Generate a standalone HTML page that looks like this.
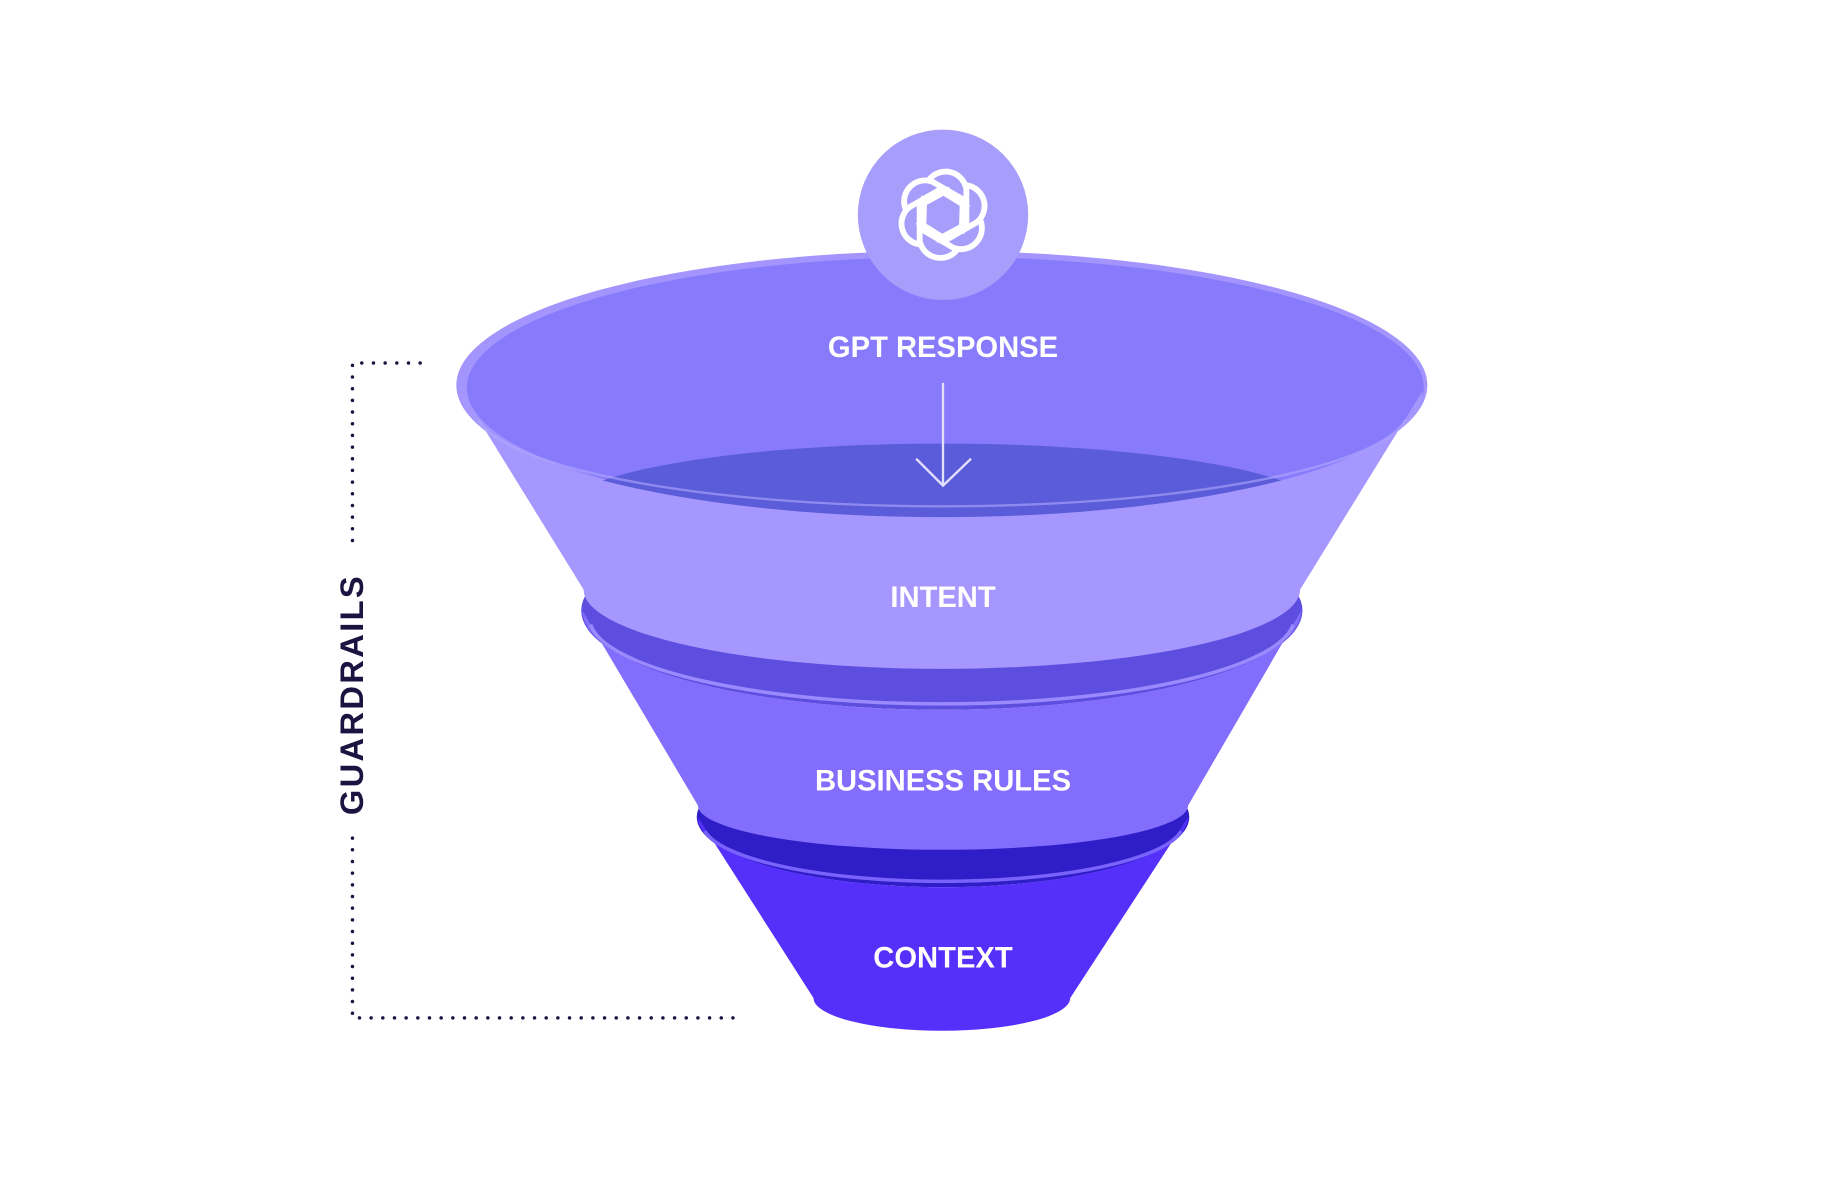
<!DOCTYPE html>
<html><head><meta charset="utf-8"><style>
html,body{margin:0;padding:0;background:#fff;width:1830px;height:1200px;overflow:hidden}
svg{display:block}
</style></head><body>
<svg width="1830" height="1200" viewBox="0 0 1568 1028" preserveAspectRatio="none" xmlns="http://www.w3.org/2000/svg">
<!-- cone 3 -->
<ellipse cx="808" cy="700" rx="211" ry="60" fill="#2f1dc7"/>
<path d="M598,700 A210,60 0 0 0 1018,700 L917,855 A110,28 0 0 1 697,855 Z" fill="#5530fb"/>
<path d="M604,712 A206,50 0 0 0 1012,712" fill="none" stroke="#7a62fc" stroke-width="3"/>
<!-- cone 2 -->
<ellipse cx="807" cy="523" rx="309" ry="85" fill="#5e4ee0"/>
<path d="M499,523 A308,85 0 0 0 1115,523 L1018,690 A210,38 0 0 1 598,690 Z" fill="#826dfc"/>
<path d="M506,535 A302,74 0 0 0 1108,535" fill="none" stroke="#9a8afd" stroke-width="3"/>
<!-- top -->
<ellipse cx="807" cy="330" rx="416" ry="115" fill="#a395fd"/>
<ellipse cx="810" cy="332" rx="410" ry="112" fill="#877bfc"/>
<ellipse cx="807" cy="440" rx="330" ry="60" fill="#5b5cd9"/>
<path d="M395,335 A412,108 0 0 0 1219,335 L1114,505 A307,68 0 0 1 500,505 Z" fill="#a597fd"/>
<path d="M410,360 A400,84 0 0 0 1204,360" fill="none" stroke="#b3a8fd" stroke-width="2" opacity="0.6"/>
<!-- circle -->
<circle cx="808" cy="184" r="73" fill="#a79dfb"/>
<g fill="none" stroke="#fff" stroke-width="5" transform="translate(808,184)">
<g id="p"><path d="M-12,-30 A18,18 0 0 1 20,-22 L20,8 L-6,22"/></g>
<use href="#p" transform="rotate(60)"/><use href="#p" transform="rotate(120)"/>
<use href="#p" transform="rotate(180)"/><use href="#p" transform="rotate(240)"/><use href="#p" transform="rotate(300)"/>
</g>
<!-- arrow -->
<g stroke="#e3dfff" stroke-width="2" fill="none">
<line x1="808" y1="328" x2="808" y2="416"/>
<polyline points="785,393 808,416 832,393"/>
</g>
<g font-family="Liberation Sans, sans-serif" font-weight="bold" fill="#fff" text-anchor="middle" font-size="25">
<text x="808" y="306">GPT RESPONSE</text>
<text x="808" y="520">INTENT</text>
<text x="808" y="677">BUSINESS RULES</text>
<text x="808" y="829">CONTEXT</text>
</g>
<!-- guardrails -->
<g stroke="#1a1440" stroke-width="3" stroke-linecap="round" stroke-dasharray="0 10" fill="none">
<polyline points="360,311 302,311 302,470"/>
<polyline points="302,718 302,872 636,872"/>
</g>
<text transform="translate(311,595) rotate(-90)" font-family="Liberation Sans, sans-serif" font-weight="bold" font-size="28" fill="#1a1440" text-anchor="middle" letter-spacing="2">GUARDRAILS</text>
</svg>
</body></html>
